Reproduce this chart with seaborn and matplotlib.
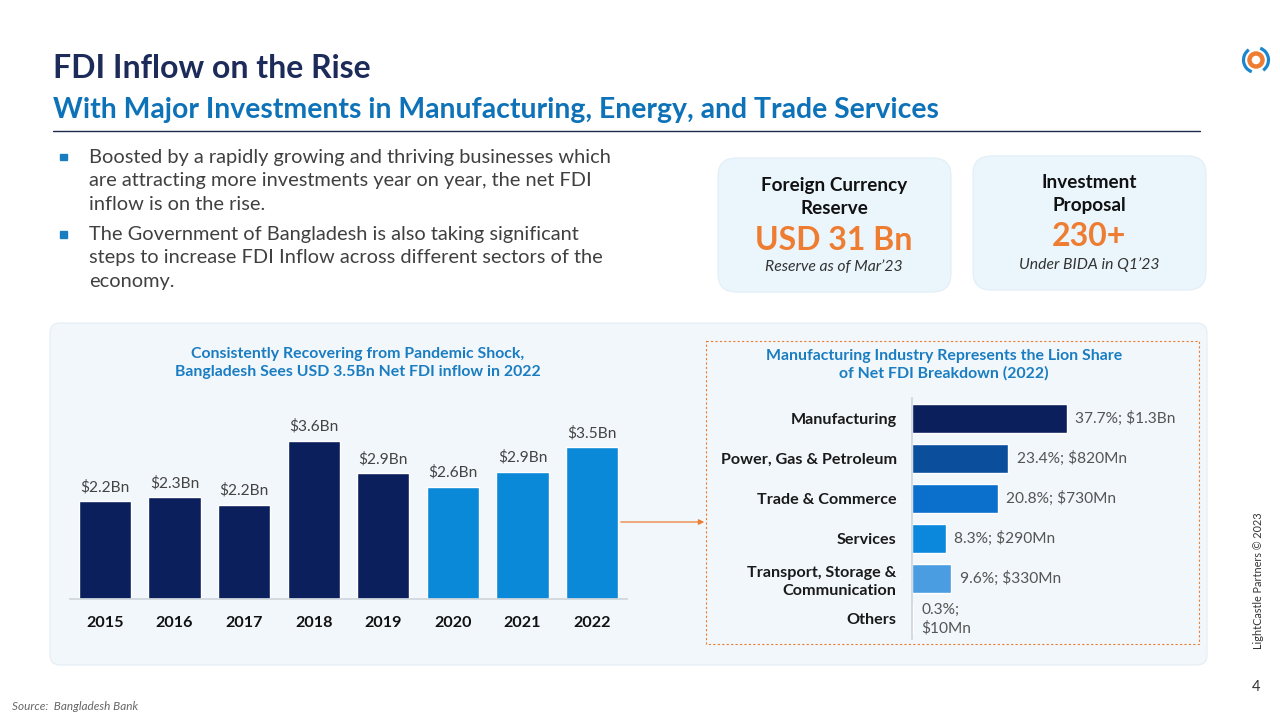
import matplotlib.pyplot as plt
import seaborn as sns
from matplotlib.patches import FancyBboxPatch, Rectangle, Circle, Arc, FancyArrowPatch

sns.set_theme(style="white")
plt.rcParams['font.family'] = ['Lato', 'DejaVu Sans']

# ---- data ----
years = ['2015', '2016', '2017', '2018', '2019', '2020', '2021', '2022']
fdi_bn = [2.23, 2.32, 2.15, 3.61, 2.87, 2.56, 2.90, 3.46]
fdi_labels = ['$2.2Bn', '$2.3Bn', '$2.2Bn', '$3.6Bn', '$2.9Bn', '$2.6Bn', '$2.9Bn', '$3.5Bn']

sectors = ['Manufacturing', 'Power, Gas & Petroleum', 'Trade & Commerce', 'Services',
           'Transport, Storage &\nCommunication', 'Others']
shares = [37.7, 23.4, 20.8, 8.3, 9.6, 0.3]
share_labels = ['37.7%; $1.3Bn', '23.4%; $820Mn', '20.8%; $730Mn', '8.3%; $290Mn',
                '9.6%; $330Mn', '0.3%;\n$10Mn']

bullets = [
    ['Boosted by a rapidly growing and thriving businesses which',
     'are attracting more investments year on year, the net FDI',
     'inflow is on the rise.'],
    ['The Government of Bangladesh is also taking significant',
     'steps to increase FDI Inflow across different sectors of the',
     'economy.'],
]

# colours
NAVY = '#0b1f5c'
BRIGHT = '#0a89d9'
year_colors = [NAVY] * 5 + [BRIGHT] * 3
sector_colors = ['#0b1f5c', '#0a4e9c', '#0b6fcc', '#0b88dc', '#4a9de0', '#8cc3ec']
ORANGE = '#ee7d31'
TITLE_BLUE = '#1a7dc2'

W, H = 1280, 720
fig = plt.figure(figsize=(12.8, 7.2), dpi=100)
fig.patch.set_facecolor('white')

# background layer in pixel coordinates
bg = fig.add_axes([0, 0, 1, 1], zorder=0)
bg.set_xlim(0, W)
bg.set_ylim(H, 0)
bg.axis('off')


def px_axes(l, t, r, b):
    return fig.add_axes([l / W, 1 - b / H, (r - l) / W, (b - t) / H], zorder=2)


# header
bg.text(53, 68, 'FDI Inflow on the Rise', fontsize=23, fontweight='bold', color='#1c2b59', va='center')
bg.text(53, 110, 'With Major Investments in Manufacturing, Energy, and Trade Services',
        fontsize=20.4, fontweight='bold', color='#0e72b8', va='center')
bg.plot([53, 1200], [131, 131], color='#1c2b4a', lw=1)

# logo
bg.add_patch(Circle((1256, 60), 6.5, fc='none', ec=ORANGE, lw=3.2))
bg.add_patch(Arc((1256, 60), 25, 25, theta1=110, theta2=235, color='#1a86d0', lw=2.3))
bg.add_patch(Arc((1256, 60), 25, 25, theta1=290, theta2=55, color='#1a86d0', lw=2.3))

# bullets
y = 157
for para in bullets:
    bg.add_patch(Rectangle((60, y - 3.5), 6.5, 6.5, color=TITLE_BLUE))
    for line in para:
        bg.text(89, y, line, fontsize=14.4, color='#404040', va='center')
        y += 23.5
    y += 7

# KPI cards
cards = [
    (718, 158, ['Foreign Currency', 'Reserve'], 'USD 31 Bn', 'Reserve as of Mar\u201923', [186, 208, 240, 267]),
    (973, 156, ['Investment', 'Proposal'], '230+', 'Under BIDA in Q1\u201923', [183, 206, 236, 265]),
]
for cx, cy, head, big, sub, ys in cards:
    bg.add_patch(FancyBboxPatch((cx, cy), 233, 134, boxstyle='round,pad=0,rounding_size=18',
                                fc='#eaf5fc', ec='#e2eef7', lw=0.8))
    mid = cx + 116
    bg.text(mid, ys[0], head[0], ha='center', va='center', fontsize=13.6, fontweight='bold', color='#111111')
    bg.text(mid, ys[1], head[1], ha='center', va='center', fontsize=13.6, fontweight='bold', color='#111111')
    bg.text(mid, ys[2], big, ha='center', va='center', fontsize=23, fontweight='bold', color=ORANGE)
    bg.text(mid, ys[3], sub, ha='center', va='center', fontsize=11.3, style='italic', color='#333333')

# chart panel
bg.add_patch(FancyBboxPatch((50, 323), 1157, 342, boxstyle='round,pad=0,rounding_size=10',
                            fc='#f2f7fb', ec='#e4edf4', lw=0.8))
bg.add_patch(Rectangle((706, 341), 493, 303, fill=False, ec=ORANGE, lw=0.8, ls=(0, (2, 2))))
bg.add_patch(FancyArrowPatch((618, 522), (707, 522), arrowstyle='-|>', mutation_scale=8,
                             color=ORANGE, lw=0.9))

bg.text(358, 363, 'Consistently Recovering from Pandemic Shock,\nBangladesh Sees USD 3.5Bn Net FDI inflow in 2022',
        ha='center', va='center', fontsize=11.4, fontweight='bold', color=TITLE_BLUE, linespacing=1.3)
bg.text(944, 365, 'Manufacturing Industry Represents the Lion Share\nof Net FDI Breakdown (2022)',
        ha='center', va='center', fontsize=11.4, fontweight='bold', color=TITLE_BLUE, linespacing=1.3)

# footer
bg.text(12, 706, 'Source:  Bangladesh Bank', fontsize=8.5, style='italic', color='#666666', va='center')
bg.text(1256, 687, '4', fontsize=10.5, color='#333333', ha='center', va='center')
bg.text(1258, 581, 'LightCastle Partners \u00a9 2023', fontsize=7.8, color='#333333', rotation=90,
        ha='center', va='center')

# ---- left chart: net FDI by year ----
ymax = 4.0
ax1 = px_axes(70, 599 - 43.9 * ymax, 627, 599)
ax1.patch.set_alpha(0)
sns.barplot(x=years, y=fdi_bn, hue=years, palette=year_colors, legend=False,
            width=0.75, saturation=1, ax=ax1)
ax1.set_ylim(0, ymax)
ax1.set_xlim(-0.5, len(years) - 0.5)
for i, (v, lab) in enumerate(zip(fdi_bn, fdi_labels)):
    ax1.annotate(lab, (i, v), xytext=(0, 5), textcoords='offset points',
                 ha='center', va='bottom', fontsize=11.2, color='#444444')
ax1.set_yticks([])
ax1.set_xticks(range(len(years)))
ax1.set_xticklabels(years, fontsize=11.6, fontweight='bold', color='#111111')
ax1.set_xticks([i - 0.5 for i in range(len(years) + 1)], minor=True)
ax1.tick_params(axis='x', which='major', length=0, pad=12)
ax1.tick_params(axis='x', which='minor', length=6, color='#cfd6dd', width=0.8, direction='out')
for s in ['top', 'right', 'left']:
    ax1.spines[s].set_visible(False)
ax1.spines['bottom'].set_color('#cfd6dd')
ax1.set_xlabel('')
ax1.set_ylabel('')

# ---- right chart: sector breakdown ----
ax2 = px_axes(912, 398, 1097, 639)
ax2.patch.set_alpha(0)
sns.barplot(y=sectors, x=shares, hue=sectors, palette=sector_colors, legend=False, orient='h',
            width=0.72, saturation=1, ax=ax2)
ax2.set_xlim(0, 45)
ax2.set_ylim(len(sectors) - 0.5, -0.5)
for i, (v, lab) in enumerate(zip(shares, share_labels)):
    ax2.annotate(lab, (v, i), xytext=(6, 0), textcoords='offset points',
                 ha='left', va='center', fontsize=11.2, color='#555555', linespacing=1.35)
ax2.set_xticks([])
ax2.set_yticks(range(len(sectors)))
ax2.set_yticklabels(sectors, fontsize=11.6, fontweight='bold', color='#1a1a1a', linespacing=1.35)
ax2.set_yticks([i - 0.5 for i in range(len(sectors) + 1)], minor=True)
ax2.tick_params(axis='y', which='major', length=0, pad=11)
ax2.tick_params(axis='y', which='minor', length=7, color='#cfd6dd', width=0.8, direction='out')
for s in ['top', 'right', 'bottom']:
    ax2.spines[s].set_visible(False)
ax2.spines['left'].set_color('#cfd6dd')
ax2.set_xlabel('')
ax2.set_ylabel('')

fig.savefig('out.png', dpi=100)
